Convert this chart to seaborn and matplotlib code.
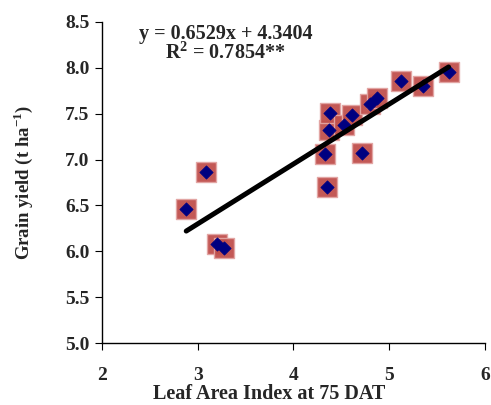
import numpy as np
import pandas as pd
import matplotlib
matplotlib.use("Agg")
import matplotlib.pyplot as plt
import seaborn as sns

# leaf area index at 75 DAT and grain yield
lai = [2.88, 3.09, 3.20, 3.27, 4.33, 4.35, 4.37, 4.38, 4.53, 4.61,
       4.72, 4.80, 4.87, 5.12, 5.35, 5.62]
grain_yield = [6.46, 6.86, 6.08, 6.04, 7.06, 6.70, 7.32, 7.51, 7.38, 7.49,
               7.07, 7.61, 7.67, 7.86, 7.80, 7.95]
slope = 0.6529
intercept = 4.3404
equation_text = "y = 0.6529x + 4.3404"
r2_text = "R$^{\\mathbf{2}}$ = 0.7854**"

sns.set_style("ticks")
plt.rcParams["font.family"] = ["Liberation Serif", "DejaVu Serif"]
plt.rcParams["font.weight"] = "bold"
plt.rcParams["mathtext.fontset"] = "custom"
plt.rcParams["mathtext.rm"] = "Liberation Serif:bold"
plt.rcParams["mathtext.bf"] = "Liberation Serif:bold"

df = pd.DataFrame({"lai": lai, "yield": grain_yield})
xfit = np.array([min(lai), max(lai)])
fit = pd.DataFrame({"lai": xfit, "yield": slope * xfit + intercept})

fig = plt.figure(figsize=(4.91, 4.05), dpi=100)
ax = fig.add_axes([0.2077, 0.153, 0.78, 0.7927])

# square background markers then diamonds on top
sns.scatterplot(data=df, x="lai", y="yield", marker="s", s=190,
                color="#C0504D", edgecolor="#E3A5A3", linewidth=1,
                alpha=0.95, ax=ax, zorder=2)
sns.scatterplot(data=df, x="lai", y="yield", marker="D", s=46,
                color="#000080", edgecolor="#000080", linewidth=0.5,
                ax=ax, zorder=3)
sns.lineplot(data=fit, x="lai", y="yield", color="black", linewidth=3.6,
             ax=ax, zorder=4, solid_capstyle="round")

ax.set_xlim(2, 6)
ax.set_ylim(5.0, 8.5)
ax.set_xticks([2, 3, 4, 5, 6])
ax.set_yticks(np.arange(5.0, 8.51, 0.5))
ax.set_yticklabels([f"{v:.1f}" for v in np.arange(5.0, 8.51, 0.5)])
ax.tick_params(axis="both", labelsize=14, direction="out", length=5,
               width=0.8, color="black")
ax.tick_params(axis="x", pad=12)
ax.tick_params(axis="y", pad=4)
for side in ["top", "right"]:
    ax.spines[side].set_visible(False)
for side in ["left", "bottom"]:
    ax.spines[side].set_color("black")
    ax.spines[side].set_linewidth(1)

ax.set_xlabel("Leaf Area Index at 75 DAT", fontsize=14.5, fontweight="bold")
ax.xaxis.set_label_coords(0.436, -0.127)
ax.set_ylabel("Grain yield (t ha$^{\\mathbf{-1}}$)", fontsize=13.5,
              fontweight="bold", labelpad=22)

ax.text(0.3225, 0.964, equation_text, transform=ax.transAxes, ha="center",
        va="center", fontsize=14.5, fontweight="bold")
ax.text(0.3225, 0.903, r2_text, transform=ax.transAxes, ha="center",
        va="center", fontsize=14.5, fontweight="bold")

fig.savefig("out.png", dpi=100)
